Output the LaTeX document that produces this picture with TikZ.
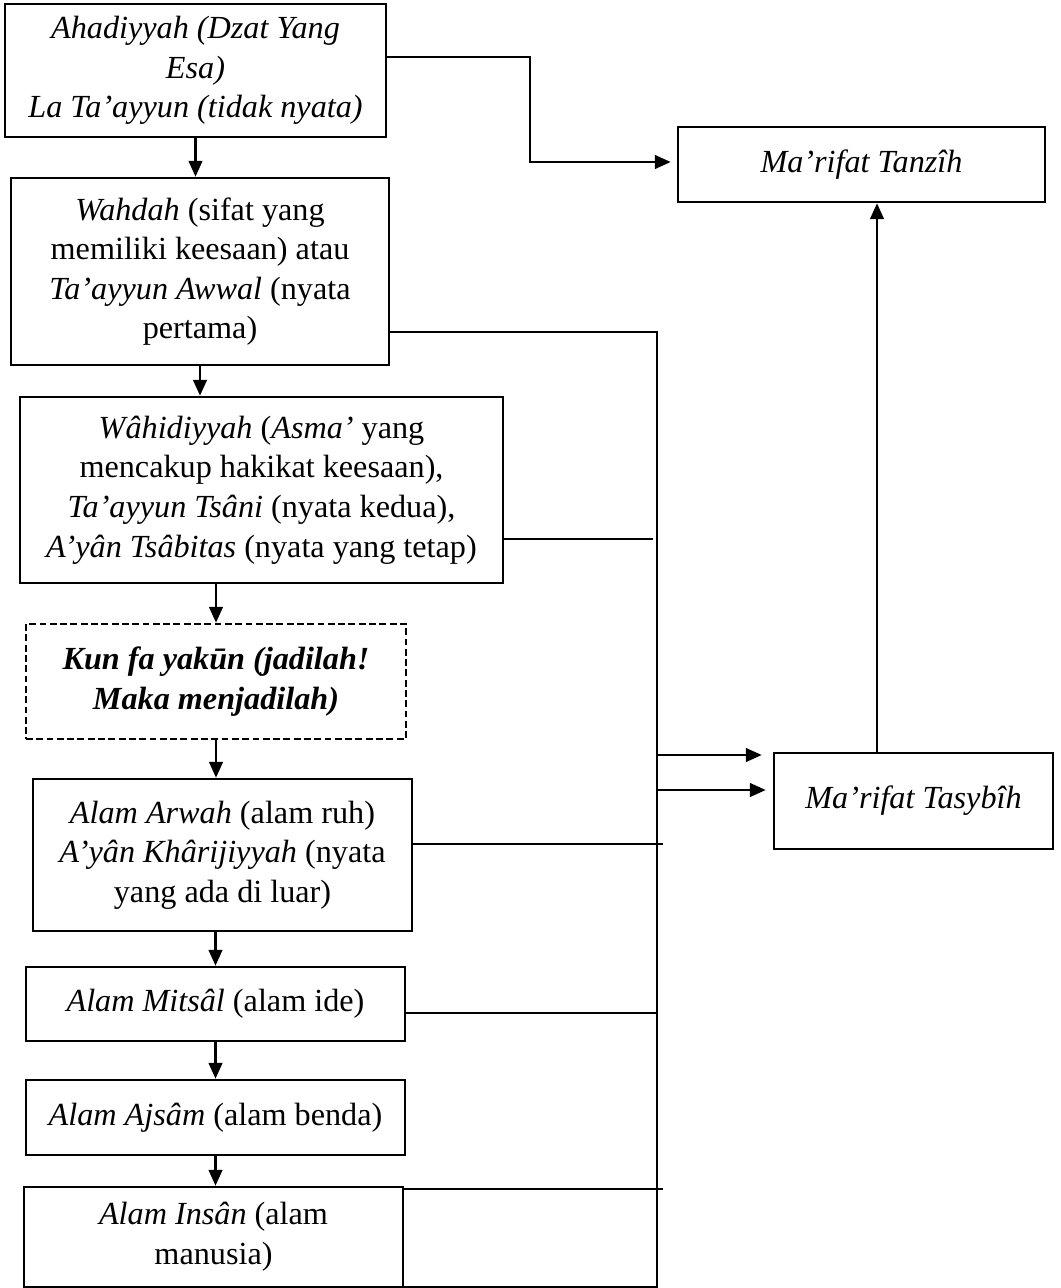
\documentclass[tikz,border=0pt]{standalone}
\usepackage{fontspec}
\setmainfont{Liberation Serif}
\usetikzlibrary{arrows.meta}

\newcommand{\pxl}{0.3788pt}

\tikzset{
  box/.style={draw, line width=1pt, align=center, inner sep=0pt,
    font=\fontsize{12.2}{15}\selectfont},
  arr/.style={line width=0.8pt, -{Triangle[length=6pt, width=5.2pt]}},
  link/.style={line width=0.8pt},
  tie/.style={line width=0.45pt}
}

\begin{document}
\begin{tikzpicture}[x=\pxl, y=-\pxl]
  \useasboundingbox (0,0) rectangle (1061,1288);

  % left column
  \node[box, minimum width=381*\pxl, minimum height=133*\pxl] (ahad) at (195.5,70.5)
    {\textit{Ahadiyyah (Dzat Yang}\\\textit{Esa)}\\\textit{La Ta’ayyun (tidak nyata)}};
  \node[box, minimum width=378*\pxl, minimum height=187*\pxl] (wahdah) at (200,271.5)
    {\textit{Wahdah} (sifat yang\\memiliki keesaan) atau\\\textit{Ta’ayyun Awwal} (nyata\\pertama)};
  \node[box, minimum width=483*\pxl, minimum height=186*\pxl] (wahid) at (261.5,490)
    {\textit{Wâhidiyyah} (\textit{Asma’} yang\\mencakup hakikat keesaan),\\\textit{Ta’ayyun Tsâni} (nyata kedua),\\\textit{A’yân Tsâbitas} (nyata yang tetap)};
  \node[box, dash pattern=on 2.6pt off 1.3pt, minimum width=380*\pxl, minimum height=115*\pxl] (kun) at (216,681.5)
    {\textbf{\textit{Kun fa yakūn (jadilah!}}\\\textbf{\textit{Maka menjadilah)}}};
  \node[box, minimum width=379*\pxl, minimum height=152*\pxl] (arwah) at (222.5,855)
    {\textit{Alam Arwah} (alam ruh)\\\textit{A’yân Khârijiyyah} (nyata\\yang ada di luar)};
  \node[box, minimum width=379*\pxl, minimum height=74*\pxl] (mitsal) at (215.5,1004)
    {\textit{Alam Mitsâl} (alam ide)};
  \node[box, minimum width=379*\pxl, minimum height=75*\pxl] (ajsam) at (215.5,1117.5)
    {\textit{Alam Ajsâm} (alam benda)};
  \node[box, minimum width=379*\pxl, minimum height=100*\pxl] (insan) at (213.5,1237)
    {\textit{Alam Insân} (alam\\manusia)};

  % right column
  \node[box, minimum width=367*\pxl, minimum height=75*\pxl] (tanzih) at (861.5,164.5)
    {\textit{Ma’rifat Tanzîh}};
  \node[box, minimum width=279*\pxl, minimum height=96*\pxl] (tasybih) at (913.5,801)
    {\textit{Ma’rifat Tasybîh}};

  % downward flow
  \draw[arr] (ahad) -- (ahad.south |- wahdah.north);
  \draw[arr] (wahdah) -- (wahid.north -| wahdah);
  \draw[arr] (wahid.south -| kun) -- (kun);
  \draw[arr] (kun) -- (kun.south |- arwah.north);
  \draw[arr] (arwah.south -| mitsal) -- (mitsal);
  \draw[arr] (mitsal) -- (ajsam);
  \draw[arr] (ajsam) -- (ajsam.south |- insan.north);

  % top link to tanzih
  \coordinate (b1) at (530,57);
  \coordinate (b2) at (530,162);
  \draw[arr, shorten >=6*\pxl] (b1 -| ahad.east) -- (b1) -- (b2) -- (b2 -| tanzih.west);

  % collecting line
  \coordinate (jA) at (657,332);
  \coordinate (jB) at (657,1287);
  \draw[link] (jA -| wahdah.east) -- (jA) -- (jB) -- (jB -| insan.east);

  \coordinate (t1) at (653,539);
  \coordinate (t2) at (663,844);
  \coordinate (t3) at (657,1013);
  \coordinate (t4) at (663,1189);
  \draw[tie] (t1 -| wahid.east) -- (t1);
  \draw[tie] (t2 -| arwah.east) -- (t2);
  \draw[tie] (t3 -| mitsal.east) -- (t3);
  \draw[tie] (t4 -| insan.east) -- (t4);

  % into tasybih and up to tanzih
  \coordinate (a1) at (657,755);
  \coordinate (a2) at (657,790);
  \draw[arr, shorten >=11*\pxl] (a1) -- (a1 -| tasybih.west);
  \draw[arr, shorten >=7*\pxl] (a2) -- (a2 -| tasybih.west);
  \coordinate (up) at (877,753);
  \draw[arr] (up) -- (up |- tanzih.south);
\end{tikzpicture}
\end{document}
